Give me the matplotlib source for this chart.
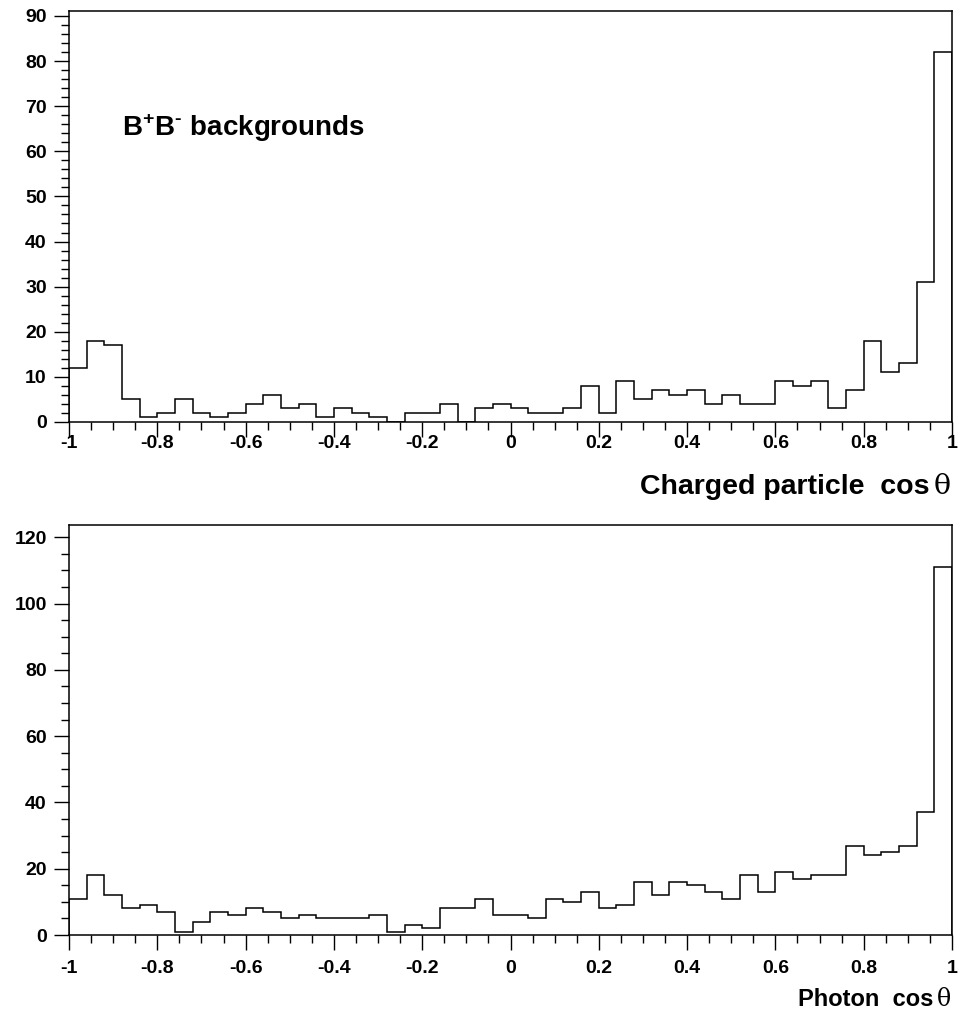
import numpy as np
import matplotlib
matplotlib.use("Agg")
import matplotlib.pyplot as plt
from matplotlib.ticker import MultipleLocator, FixedLocator

plt.rcParams['font.family'] = ['Liberation Sans', 'DejaVu Sans']
plt.rcParams['mathtext.fontset'] = 'custom'
plt.rcParams['mathtext.rm'] = 'Liberation Sans:bold'
plt.rcParams['mathtext.bf'] = 'Liberation Sans:bold'

# 50 bins from -1 to 1
bin_edges = np.linspace(-1.0, 1.0, 51)

charged_counts = [12, 18, 17, 5, 1, 2, 5, 2, 1, 2,
                  4, 6, 3, 4, 1, 3, 2, 1, 0, 2,
                  2, 4, 0, 3, 4, 3, 2, 2, 3, 8,
                  2, 9, 5, 7, 6, 7, 4, 6, 4, 4,
                  9, 8, 9, 3, 7, 18, 11, 13, 31, 82]

photon_counts = [11, 18, 12, 8, 9, 7, 1, 4, 7, 6,
                 8, 7, 5, 6, 5, 5, 5, 6, 1, 3,
                 2, 8, 8, 11, 6, 6, 5, 11, 10, 13,
                 8, 9, 16, 12, 16, 15, 13, 11, 18, 13,
                 19, 17, 18, 18, 27, 24, 25, 27, 37, 111]

x_ticks = [-1, -0.8, -0.6, -0.4, -0.2, 0, 0.2, 0.4, 0.6, 0.8, 1]
x_ticklabels = ['-1', '-0.8', '-0.6', '-0.4', '-0.2', '0', '0.2', '0.4', '0.6', '0.8', '1']
top_yticks = [0, 10, 20, 30, 40, 50, 60, 70, 80, 90]
bot_yticks = [0, 20, 40, 60, 80, 100, 120]

W, H = 959, 1013
fig = plt.figure(figsize=(W / 100, H / 100), dpi=100)

def ax_rect(left, top, right, bottom):
    return [left / W, 1 - bottom / H, (right - left) / W, (bottom - top) / H]

ax1 = fig.add_axes(ax_rect(69, 11, 952, 422))
ax2 = fig.add_axes(ax_rect(69, 525, 952, 935))

def style(ax, counts, yticks, ymax, yminor, xpad):
    ax.stairs(counts, bin_edges, color='black', linewidth=1.1)
    ax.set_xlim(-1, 1)
    ax.set_ylim(0, ymax)
    ax.xaxis.set_major_locator(FixedLocator(x_ticks))
    ax.set_xticklabels(x_ticklabels)
    ax.xaxis.set_minor_locator(MultipleLocator(0.05))
    ax.yaxis.set_major_locator(FixedLocator(yticks))
    ax.yaxis.set_minor_locator(MultipleLocator(yminor))
    ax.tick_params(axis='both', which='major', direction='out', length=11, width=1.0,
                   labelsize=14)
    ax.tick_params(axis='both', which='minor', direction='out', length=5.5, width=1.0)
    ax.tick_params(axis='x', which='major', pad=xpad)
    ax.tick_params(axis='y', which='major', pad=5)
    for lab in ax.get_xticklabels() + ax.get_yticklabels():
        lab.set_fontweight('bold')
    for sp in ax.spines.values():
        sp.set_linewidth(1.1)
    ax.set_facecolor('white')

style(ax1, charged_counts, top_yticks, 91.1, 2, -2)
style(ax2, photon_counts, bot_yticks, 123.7, 5, 7)

# axis titles (right aligned), theta in serif
def xtitle(ypix, text, size):
    yf = 1 - ypix / H
    fig.text(951 / W, yf, '\u03b8', family='DejaVu Serif', fontsize=size,
             ha='right', va='center')
    fig.text((951 - 1.05 * size) / W, yf, text, fontsize=size, fontweight='bold',
             ha='right', va='center')

xtitle(487, 'Charged particle  cos', 20.5)
xtitle(999, 'Photon  cos', 17)

fig.text(122 / W, 1 - 128 / H, 'B$^{+}$B$^{\u2010}$ backgrounds', fontsize=20,
         fontweight='bold', ha='left', va='center')

fig.savefig('out.png', dpi=100, facecolor='white')
